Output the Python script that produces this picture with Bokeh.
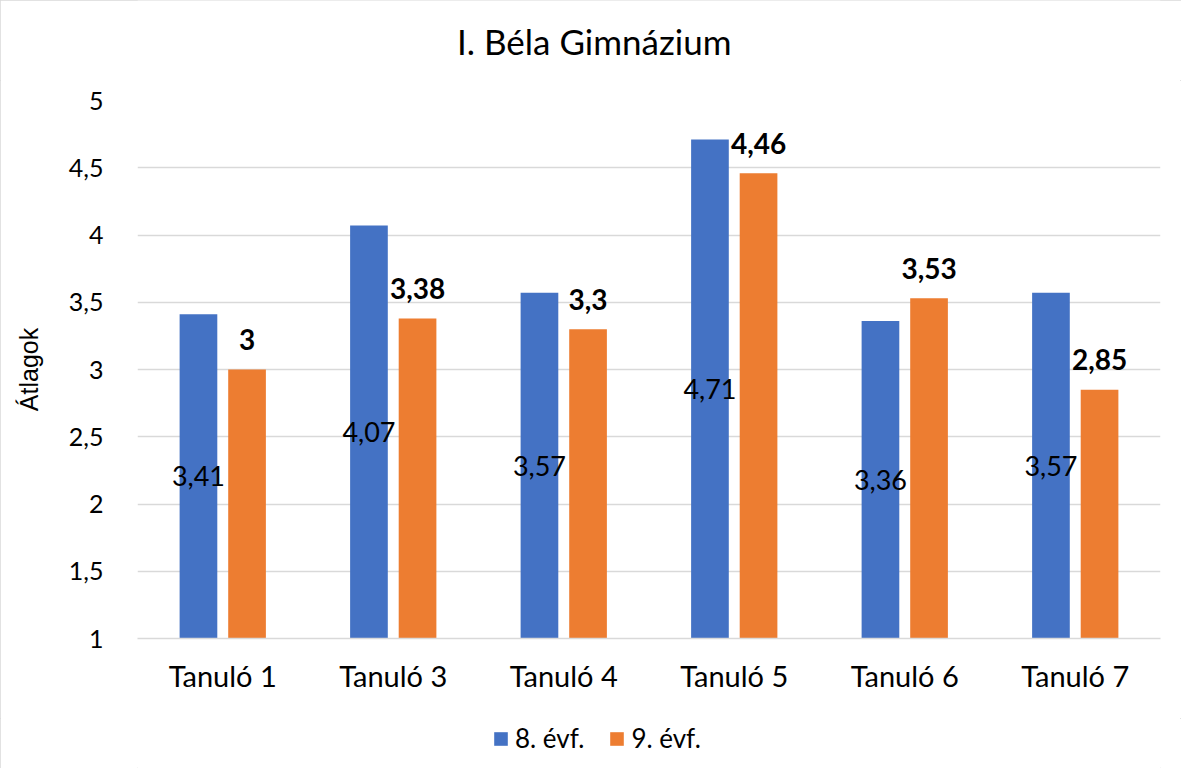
from bokeh.plotting import figure
from bokeh.layouts import column
from bokeh.models import (ColumnDataSource, FactorRange, Range1d, FixedTicker,
                          CustomJSTickFormatter, Legend, LegendItem, Label)
from bokeh.transform import dodge
from bokeh.core.properties import value
from bokeh.embed import file_html
from bokeh.resources import INLINE

# ---- data ----
categories = ["Tanuló 1", "Tanuló 3", "Tanuló 4", "Tanuló 5", "Tanuló 6", "Tanuló 7"]
evf8 = [3.41, 4.07, 3.57, 4.71, 3.36, 3.57]
evf9 = [3.00, 3.38, 3.30, 4.46, 3.53, 2.85]
series_names = ["8. évf.", "9. évf."]
y_ticks = [1, 1.5, 2, 2.5, 3, 3.5, 4, 4.5, 5]
title_text = "I. Béla Gimnázium"
y_label = "Átlagok"

BLUE = "#4472C4"
ORANGE = "#ED7D31"
GRID = "#d9d9d9"


def fmt(v):
    return f"{v:g}".replace(".", ",")


src = ColumnDataSource(dict(
    cat=categories,
    a=evf8,
    b=evf9,
    base=[1] * len(categories),
    amid=[(1 + v) / 2 for v in evf8],
    alab=[fmt(v) for v in evf8],
    blab=[fmt(v) for v in evf9],
))

OFF = 0.1425
W = 0.221

# ---- title strip ----
pt = figure(x_range=FactorRange(*categories), y_range=Range1d(0, 1),
            width=1181, height=80, output_backend="svg", toolbar_location=None,
            x_axis_location=None, y_axis_location=None,
            min_border_left=0, min_border_right=0, min_border_top=0, min_border_bottom=0)
pt.outline_line_color = None
pt.grid.visible = False
pt.add_layout(Label(x=456.7, y=40, x_units="screen", y_units="screen",
                    text=title_text, text_align="center", text_baseline="alphabetic",
                    text_font="Lato", text_font_size="35px", text_color="black"))

# ---- main chart ----
p = figure(x_range=FactorRange(*categories), y_range=Range1d(1, 5),
           width=1181, height=638, output_backend="svg", toolbar_location=None,
           min_border_left=137, min_border_right=21, min_border_top=20,
           min_border_bottom=80)
p.outline_line_color = None
p.background_fill_color = "white"
p.border_fill_color = "white"

r1 = p.vbar(x=dodge("cat", -OFF, range=p.x_range), top="a", bottom="base", width=W,
            source=src, fill_color=BLUE, line_color=None)
r2 = p.vbar(x=dodge("cat", OFF, range=p.x_range), top="b", bottom="base", width=W,
            source=src, fill_color=ORANGE, line_color=None)

p.text(x=dodge("cat", -OFF, range=p.x_range), y="amid", text="alab", source=src,
       text_align="center", text_baseline="middle", text_font=value("Lato"),
       text_font_size="27px", text_color="black")
p.text(x=dodge("cat", OFF, range=p.x_range), y="b", text="blab", source=src,
       text_align="center", text_baseline="alphabetic", y_offset=-30,
       text_font=value("Lato"), text_font_style="bold",
       text_font_size="28px", text_color="black")

# grid
p.xgrid.grid_line_color = None
p.ygrid.grid_line_color = GRID
p.ygrid.grid_line_width = 1.3
p.yaxis.ticker = FixedTicker(ticks=y_ticks)
p.yaxis.formatter = CustomJSTickFormatter(code="return tick.toString().replace('.', ',');")

# y axis
p.yaxis.axis_line_color = None
p.yaxis.major_tick_line_color = None
p.yaxis.minor_tick_line_color = None
p.yaxis.major_label_standoff = 28
p.yaxis.major_label_text_font = "Lato"
p.yaxis.major_label_text_font_size = "25px"
p.yaxis.major_label_text_color = "black"
p.yaxis.axis_label = y_label
p.yaxis.axis_label_text_font = "Liberation Sans"
p.yaxis.axis_label_text_font_size = "25px"
p.yaxis.axis_label_text_font_style = "normal"
p.yaxis.axis_label_text_color = "black"
p.yaxis.axis_label_standoff = 23

# x axis
p.xaxis.axis_line_color = GRID
p.xaxis.axis_line_width = 1.5
p.xaxis.major_tick_line_color = None
p.xaxis.minor_tick_line_color = None
p.xaxis.major_label_standoff = 13
p.xaxis.major_label_text_font = "Lato"
p.xaxis.major_label_text_font_size = "29px"
p.xaxis.major_label_text_color = "black"

# ---- legend strip ----
pl = figure(x_range=FactorRange(*categories), y_range=Range1d(-1, 0),
            width=1181, height=50, output_backend="svg", toolbar_location=None,
            x_axis_location=None, y_axis_location=None,
            min_border_left=0, min_border_right=0, min_border_top=0, min_border_bottom=0)
pl.outline_line_color = None
pl.grid.visible = False
l1 = pl.vbar(x=dodge("cat", -OFF, range=pl.x_range), top="a", bottom="base", width=W,
             source=src, fill_color=BLUE, line_color=None, visible=False)
l2 = pl.vbar(x=dodge("cat", OFF, range=pl.x_range), top="b", bottom="base", width=W,
             source=src, fill_color=ORANGE, line_color=None, visible=False)

legend = Legend(items=[LegendItem(label=series_names[0], renderers=[l1]),
                       LegendItem(label=series_names[1], renderers=[l2])],
                orientation="horizontal", location=(355, 14),
                glyph_width=17, glyph_height=17, label_standoff=6, spacing=24,
                padding=0, margin=0, border_line_color=None, background_fill_alpha=0,
                inactive_fill_alpha=0,
                label_text_font="Lato", label_text_font_size="26px",
                label_text_color="black")
pl.add_layout(legend)

layout = column(pt, p, pl, spacing=0)
layout.styles = {"outline": "1px solid #d9d9d9", "outline-offset": "-1px"}

open("out.html", "w").write(file_html(layout, INLINE))
